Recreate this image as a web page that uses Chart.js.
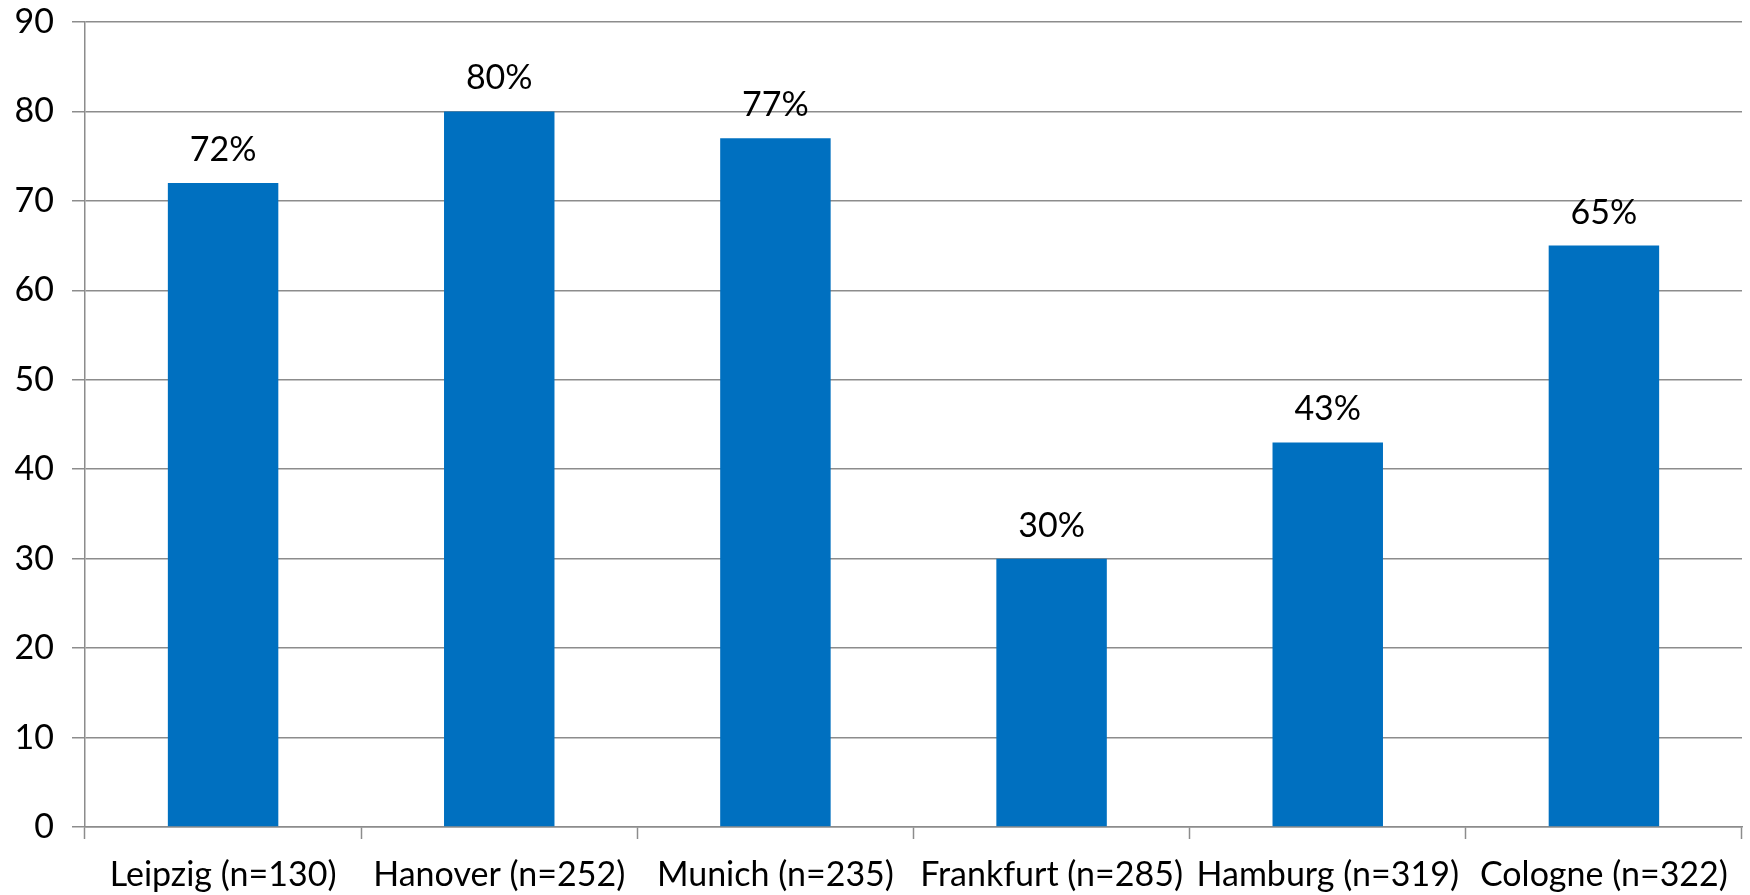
<!DOCTYPE html>
<html>
<head>
<meta charset="utf-8">
<script src="https://cdn.jsdelivr.net/npm/chart.js@4.4.1/dist/chart.umd.min.js"></script>
<style>
  html, body { margin: 0; padding: 0; background: #fff; }
  #wrap { width: 1750px; height: 895px; }
</style>
</head>
<body>
<div id="wrap"><canvas id="chart" width="1750" height="895"></canvas></div>
<script>
const cities = ['Leipzig (n=130)', 'Hanover (n=252)', 'Munich (n=235)', 'Frankfurt (n=285)', 'Hamburg (n=319)', 'Cologne (n=322)'];
const shares = [72, 80, 77, 30, 43, 65];
const yTicks = [0, 10, 20, 30, 40, 50, 60, 70, 80, 90];

const FONT = 'Lato, "Open Sans", sans-serif';
const FONT_SIZE = 34;
const barBlue = '#0070c0';
const gridGray = '#8c8c8c';

// draws "72%" above each bar
const valueLabels = {
  id: 'valueLabels',
  afterDatasetsDraw(chart) {
    const ctx = chart.ctx;
    const meta = chart.getDatasetMeta(0);
    ctx.save();
    ctx.fillStyle = '#000';
    ctx.font = FONT_SIZE + 'px ' + FONT;
    ctx.textAlign = 'center';
    ctx.textBaseline = 'alphabetic';
    meta.data.forEach((bar, i) => {
      ctx.fillText(shares[i] + '%', bar.x, bar.y - 22);
    });
    ctx.restore();
  }
};

new Chart(document.getElementById('chart'), {
  type: 'bar',
  data: {
    labels: cities,
    datasets: [{
      data: shares,
      backgroundColor: barBlue,
      categoryPercentage: 1,
      barPercentage: 0.4
    }]
  },
  options: {
    responsive: false,
    animation: false,
    layout: { padding: { top: 0, right: 8, left: 0, bottom: 0 } },
    plugins: {
      legend: { display: false },
      tooltip: { enabled: false }
    },
    scales: {
      x: {
        afterFit(scale) {
          scale.height = 68;
        },
        grid: {
          drawOnChartArea: false,
          drawTicks: true,
          tickLength: 12,
          tickWidth: 1.5,
          tickColor: gridGray,
          offset: true
        },
        border: { color: gridGray, width: 1.5 },
        ticks: {
          color: '#000',
          font: { family: FONT, size: FONT_SIZE },
          padding: 16,
          maxRotation: 0,
          autoSkip: false
        }
      },
      y: {
        min: 0,
        max: 90,
        afterBuildTicks(scale) {
          scale.ticks = yTicks.map(v => ({ value: v }));
        },
        afterFit(scale) {
          scale.width = 85;
          scale.paddingTop = 22;
        },
        grid: {
          color: gridGray,
          lineWidth: 1.5,
          drawTicks: true,
          tickLength: 13
        },
        border: { color: gridGray, width: 1.5 },
        ticks: {
          color: '#000',
          font: { family: FONT, size: FONT_SIZE },
          padding: 18
        }
      }
    }
  },
  plugins: [valueLabels]
});
</script>
</body>
</html>
